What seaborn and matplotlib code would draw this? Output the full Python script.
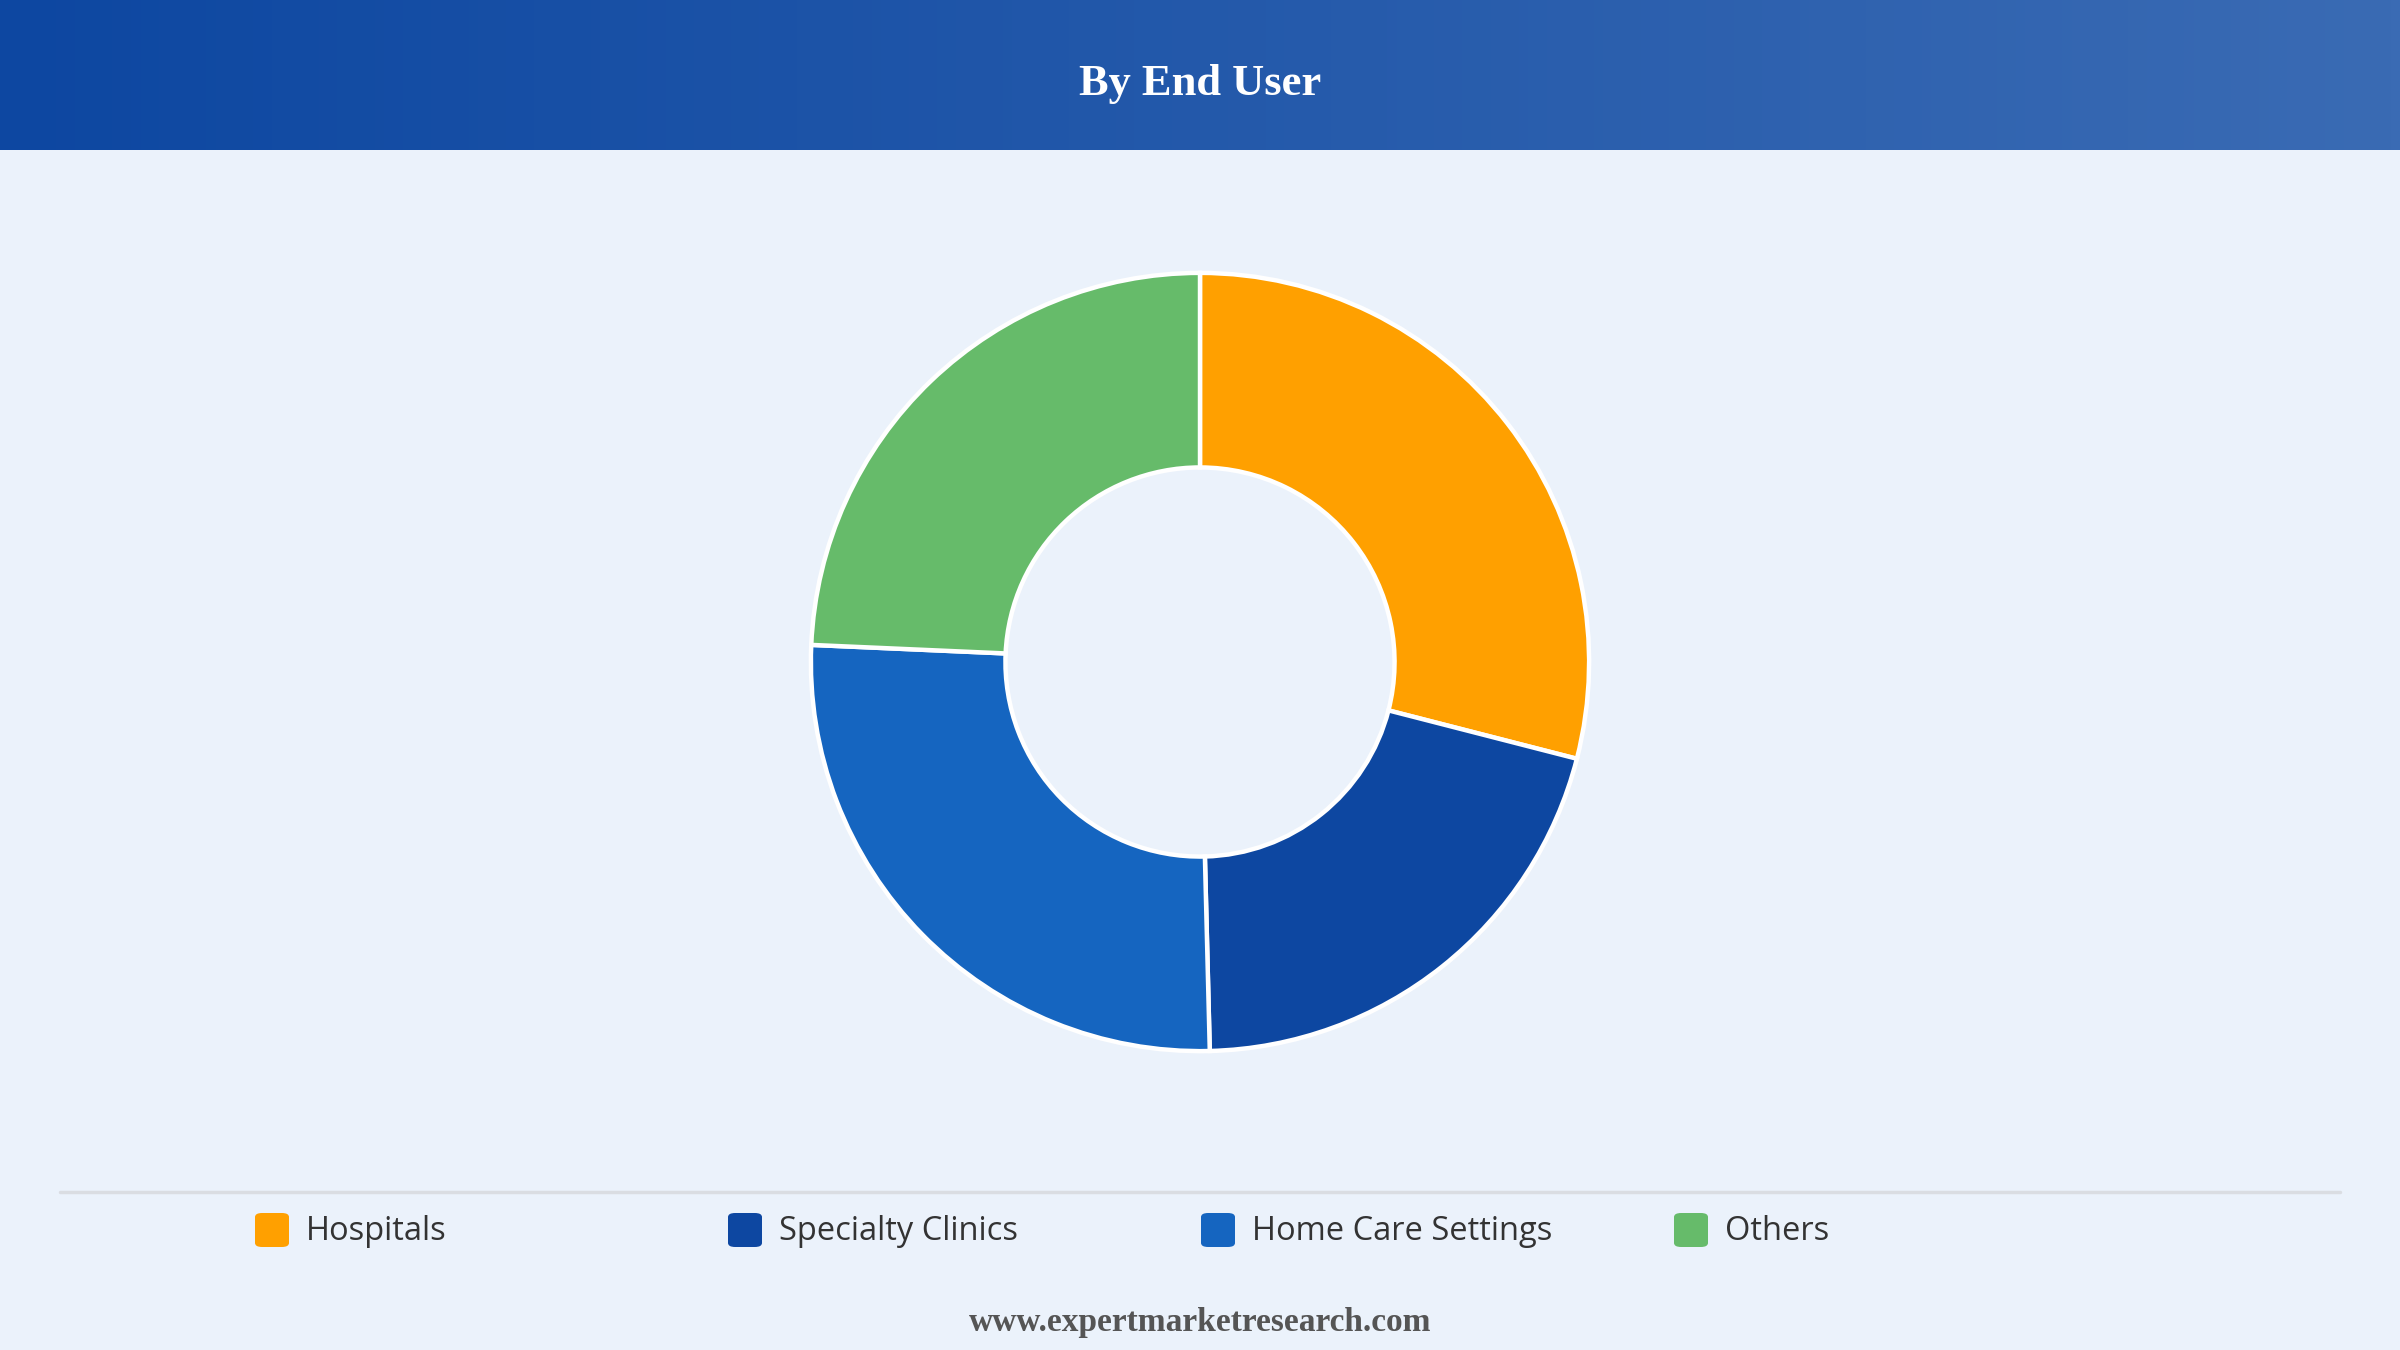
import numpy as np
import matplotlib
matplotlib.use("Agg")
import matplotlib.pyplot as plt
import seaborn as sns
from matplotlib.patches import FancyBboxPatch

# data
segments = ["Hospitals", "Specialty Clinics", "Home Care Settings", "Others"]
shares = [29.0, 20.6, 26.1, 24.3]
colors = ["#FFA000", "#0D47A1", "#1565C0", "#66BB6A"]
title = "By End User"
source = "www.expertmarketresearch.com"

bg = "#EBF2FB"
sns.set_theme(style="white")
plt.rcParams["font.family"] = ["Open Sans", "DejaVu Sans"]

fig = plt.figure(figsize=(24, 13.5), dpi=100, facecolor=bg)

# header band with horizontal gradient
head = fig.add_axes([0, 1 - 150 / 1350, 1, 150 / 1350])
grad = np.linspace(0, 1, 512).reshape(1, -1)
cmap = matplotlib.colors.LinearSegmentedColormap.from_list("hdr", ["#0D47A1", "#3A6BB4"])
head.imshow(grad, aspect="auto", cmap=cmap, extent=[0, 1, 0, 1])
head.set_axis_off()
head.text(0.5, 0.44, title, ha="center", va="center", color="white",
          fontsize=32, fontweight="bold", family=["Liberation Serif", "DejaVu Serif"])

# donut
r_px = 393
ax = fig.add_axes([0.5 - r_px / 2400, 1 - 662 / 1350 - r_px / 1350, 2 * r_px / 2400, 2 * r_px / 1350])
ax.pie(shares, colors=colors, startangle=90, counterclock=False, radius=1.0,
       wedgeprops=dict(width=0.5, edgecolor="white", linewidth=3.2))
ax.set_aspect("equal")
ax.set_xlim(-1.01, 1.01)
ax.set_ylim(-1.01, 1.01)
ax.set_axis_off()

# separator line above legend
fig.add_artist(plt.Line2D([60 / 2400, 2340 / 2400], [1 - 1192 / 1350] * 2,
                          color="#DADDE2", linewidth=2.5))

# legend items
x0, step, y = 255, 473, 1 - 1230 / 1350
for i, (name, c) in enumerate(zip(segments, colors)):
    x = x0 + i * step
    sq = FancyBboxPatch((x / 2400, y - 17 / 1350), 34 / 2400, 34 / 1350,
                        boxstyle="round,pad=0,rounding_size=0.003",
                        transform=fig.transFigure, facecolor=c, edgecolor="none")
    fig.add_artist(sq)
    fig.text((x + 51) / 2400, y - 2 / 1350, name, ha="left", va="center",
             fontsize=23.5, color="#333333")

fig.text(0.5, 1 - 1323 / 1350, source, ha="center", va="center", color="#555555",
         fontsize=24, fontweight="bold", family=["Liberation Serif", "DejaVu Serif"])

fig.savefig("out.png", dpi=100, facecolor=bg)
